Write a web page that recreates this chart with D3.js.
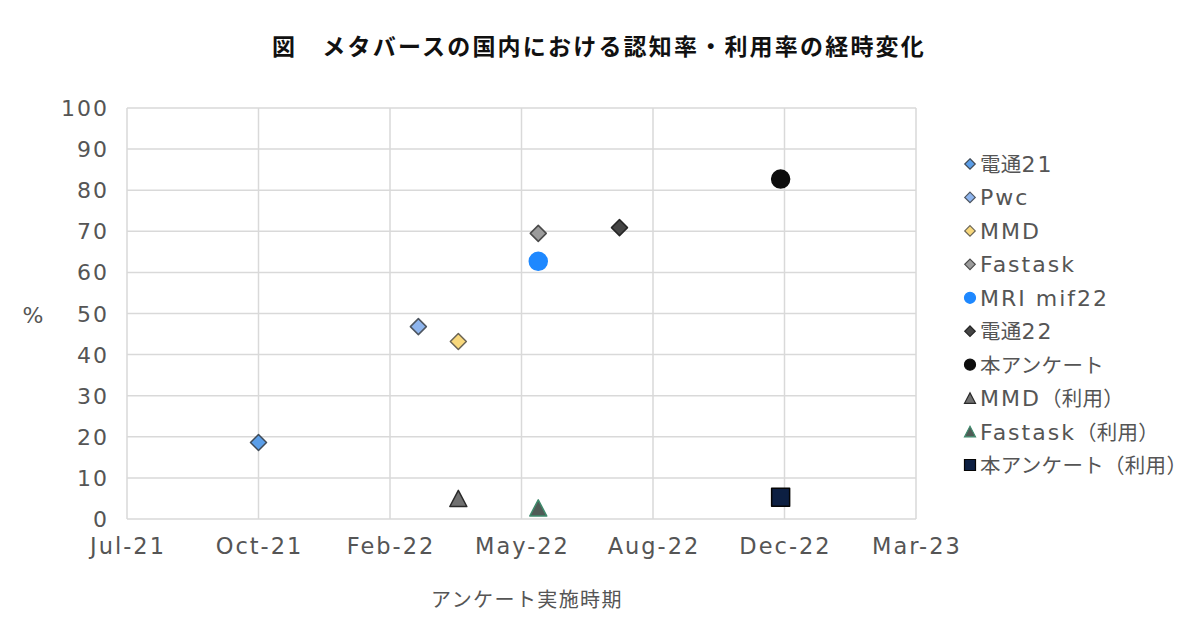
<!DOCTYPE html>
<html lang="ja">
<head>
<meta charset="utf-8">
<title>メタバースの国内における認知率・利用率の経時変化</title>
<script src="https://cdn.jsdelivr.net/npm/d3@7"></script>
<style>
    html, body { margin: 0; padding: 0; background: #fff; }
    #chart { width: 1200px; height: 630px; }
</style>
</head>
<body>
<div id="chart"></div>
<script>
// Values
const titleText = "図　メタバースの国内における認知率・利用率の経時変化";
const yAxisTitle = "%";
const xAxisTitle = "アンケート実施時期";

const xTickDates = ["2021-07-15", "2021-10-25", "2022-02-04", "2022-05-17", "2022-08-27", "2022-12-07", "2023-03-19"];
const xTickLabels = ["Jul-21", "Oct-21", "Feb-22", "May-22", "Aug-22", "Dec-22", "Mar-23"];
const yTicks = [0, 10, 20, 30, 40, 50, 60, 70, 80, 90, 100];

const seriesNames = ["電通21", "Pwc", "MMD", "Fastask", "MRI mif22", "電通22", "本アンケート", "MMD（利用）", "Fastask（利用）", "本アンケート（利用）"];
const seriesDates = ["2021-10-25", "2022-02-26", "2022-03-29", "2022-05-30", "2022-05-30", "2022-08-01", "2022-12-04", "2022-03-29", "2022-05-30", "2022-12-04"];
const seriesValues = [18.6, 46.8, 43.2, 69.5, 62.7, 70.9, 82.7, 5.0, 2.7, 5.3];

// marker look per series
const seriesShapes = ["diamond", "diamond", "diamond", "diamond", "circle", "diamond", "circle", "triangle", "triangle", "square"];
const seriesFills = ["#5b9ee8", "#8eb5ee", "#f8d87c", "#9b9b9b", "#1e88ff", "#454545", "#0d0d0d", "#707070", "#4f5b56", "#0c1f42"];
const seriesStrokes = ["#3f4a57", "#4d5560", "#6a6454", "#4a4a4a", "#1e88ff", "#262626", "#0d0d0d", "#2a2a2a", "#3f8a6c", "#050505"];

class Chart {
    constructor() {
        const attrs = {
            container: "#chart",
            svgWidth: 1200,
            svgHeight: 630,
            plotLeft: 127,
            plotRight: 916,
            plotTop: 108,
            plotBottom: 519,
            textColor: "#555555",
            gridColor: "#d9d9d9",
            latinFont: "'DejaVu Sans', 'Noto Sans CJK JP', sans-serif",
            cjkFont: "'Noto Sans CJK JP', 'DejaVu Sans', sans-serif"
        };
        this.getState = () => attrs;
        this.setState = (d) => Object.assign(attrs, d);
    }

    render() {
        this.drawSvg();
        this.drawGrid();
        this.drawTexts();
        this.drawPoints();
        this.drawLegend();
        return this;
    }

    drawSvg() {
        const { container, svgWidth, svgHeight, plotLeft, plotRight, plotTop, plotBottom } = this.getState();
        const parse = d3.utcParse("%Y-%m-%d");

        const svg = d3.select(container).append("svg")
            .attr("width", svgWidth)
            .attr("height", svgHeight)
            .style("background", "#fff");

        const x = d3.scaleUtc()
            .domain([parse(xTickDates[0]), parse(xTickDates[xTickDates.length - 1])])
            .range([plotLeft, plotRight]);
        const y = d3.scaleLinear().domain([0, 100]).range([plotBottom, plotTop]);

        this.setState({ svg, x, y, parse });
    }

    drawGrid() {
        const { svg, x, y, parse, plotLeft, plotRight, plotTop, plotBottom, gridColor } = this.getState();
        const grid = svg.append("g").attr("class", "grid");

        grid.selectAll("line.hgrid").data(yTicks).join("line")
            .attr("class", "hgrid")
            .attr("x1", plotLeft).attr("x2", plotRight)
            .attr("y1", d => y(d)).attr("y2", d => y(d))
            .attr("stroke", gridColor).attr("stroke-width", 1.5);

        grid.selectAll("line.vgrid").data(xTickDates).join("line")
            .attr("class", "vgrid")
            .attr("x1", d => x(parse(d))).attr("x2", d => x(parse(d)))
            .attr("y1", plotTop).attr("y2", plotBottom)
            .attr("stroke", gridColor).attr("stroke-width", 1.5);
    }

    drawTexts() {
        const { svg, x, y, parse, textColor, latinFont, cjkFont, plotBottom } = this.getState();
        const ls = 2;

        // y tick labels
        svg.append("g").selectAll("text").data(yTicks).join("text")
            .attr("x", 107 + ls)
            .attr("y", d => y(d) + 8)
            .attr("text-anchor", "end")
            .attr("font-family", latinFont)
            .attr("font-size", 22)
            .attr("letter-spacing", ls)
            .attr("fill", textColor)
            .text(d => d);

        // x tick labels
        svg.append("g").selectAll("text").data(xTickDates).join("text")
            .attr("x", d => x(parse(d)) + ls / 2)
            .attr("y", plotBottom + 35)
            .attr("text-anchor", "middle")
            .attr("font-family", latinFont)
            .attr("font-size", 22.5)
            .attr("letter-spacing", ls)
            .attr("fill", textColor)
            .text((d, i) => xTickLabels[i]);

        svg.append("text")
            .attr("x", 33).attr("y", 323)
            .attr("text-anchor", "middle")
            .attr("font-family", latinFont)
            .attr("font-size", 22)
            .attr("fill", textColor)
            .text(yAxisTitle);

        svg.append("text")
            .attr("x", 527).attr("y", 607)
            .attr("text-anchor", "middle")
            .attr("font-family", cjkFont)
            .attr("font-size", 20)
            .attr("letter-spacing", 1.4)
            .attr("fill", textColor)
            .text(xAxisTitle);

        svg.append("text")
            .attr("x", 599).attr("y", 55)
            .attr("text-anchor", "middle")
            .attr("font-family", cjkFont)
            .attr("font-weight", "bold")
            .attr("font-size", 23)
            .attr("letter-spacing", 2.2)
            .attr("fill", "#111111")
            .text(titleText);
    }

    markerPath(shape, s) {
        const h = s / 2;
        if (shape === "diamond") return `M0,${-h}L${h},0L0,${h}L${-h},0Z`;
        if (shape === "triangle") return `M0,${-h * 0.95}L${h},${h * 0.95}L${-h},${h * 0.95}Z`;
        if (shape === "square") return `M${-h},${-h}H${h}V${h}H${-h}Z`;
        return d3.symbol(d3.symbolCircle, Math.PI * h * h)();
    }

    drawPoints() {
        const { svg, x, y, parse } = this.getState();
        const plotSize = { diamond: 16, circle: 18, triangle: 17, square: 18 };

        svg.append("g").attr("class", "points")
            .selectAll("path").data(seriesNames).join("path")
            .attr("transform", (d, i) => `translate(${x(parse(seriesDates[i]))},${y(seriesValues[i])})`)
            .attr("d", (d, i) => this.markerPath(seriesShapes[i], plotSize[seriesShapes[i]]))
            .attr("fill", (d, i) => seriesFills[i])
            .attr("stroke", (d, i) => seriesStrokes[i])
            .attr("stroke-width", 1.5)
            .attr("stroke-linejoin", "round");
    }

    drawLegend() {
        const { svg, textColor, latinFont, cjkFont } = this.getState();
        const legendSize = { diamond: 10.5, circle: 11, triangle: 11, square: 11 };
        const rowY = d3.scalePoint().domain(seriesNames).range([164, 465]);
        const cjk = /([\u3000-\u30ff\u3400-\u9fff\uff00-\uffef]+)/;

        const rows = svg.append("g").attr("class", "legend")
            .selectAll("g").data(seriesNames).join("g")
            .attr("transform", d => `translate(970,${rowY(d)})`);

        rows.append("path")
            .attr("d", (d, i) => this.markerPath(seriesShapes[i], legendSize[seriesShapes[i]]))
            .attr("fill", (d, i) => seriesFills[i])
            .attr("stroke", (d, i) => seriesStrokes[i])
            .attr("stroke-width", 1.2);

        rows.append("text")
            .attr("x", 10)
            .attr("y", 8)
            .attr("fill", textColor)
            .each(function (d) {
                const t = d3.select(this);
                d.split(cjk).filter(s => s.length).forEach(part => {
                    const isCjk = cjk.test(part);
                    t.append("tspan")
                        .attr("font-family", isCjk ? cjkFont : latinFont)
                        .attr("font-size", isCjk ? 20.5 : 22)
                        .attr("letter-spacing", isCjk ? 0.3 : 2)
                        .text(part);
                });
            });
    }
}

new Chart().render();
</script>
</body>
</html>
